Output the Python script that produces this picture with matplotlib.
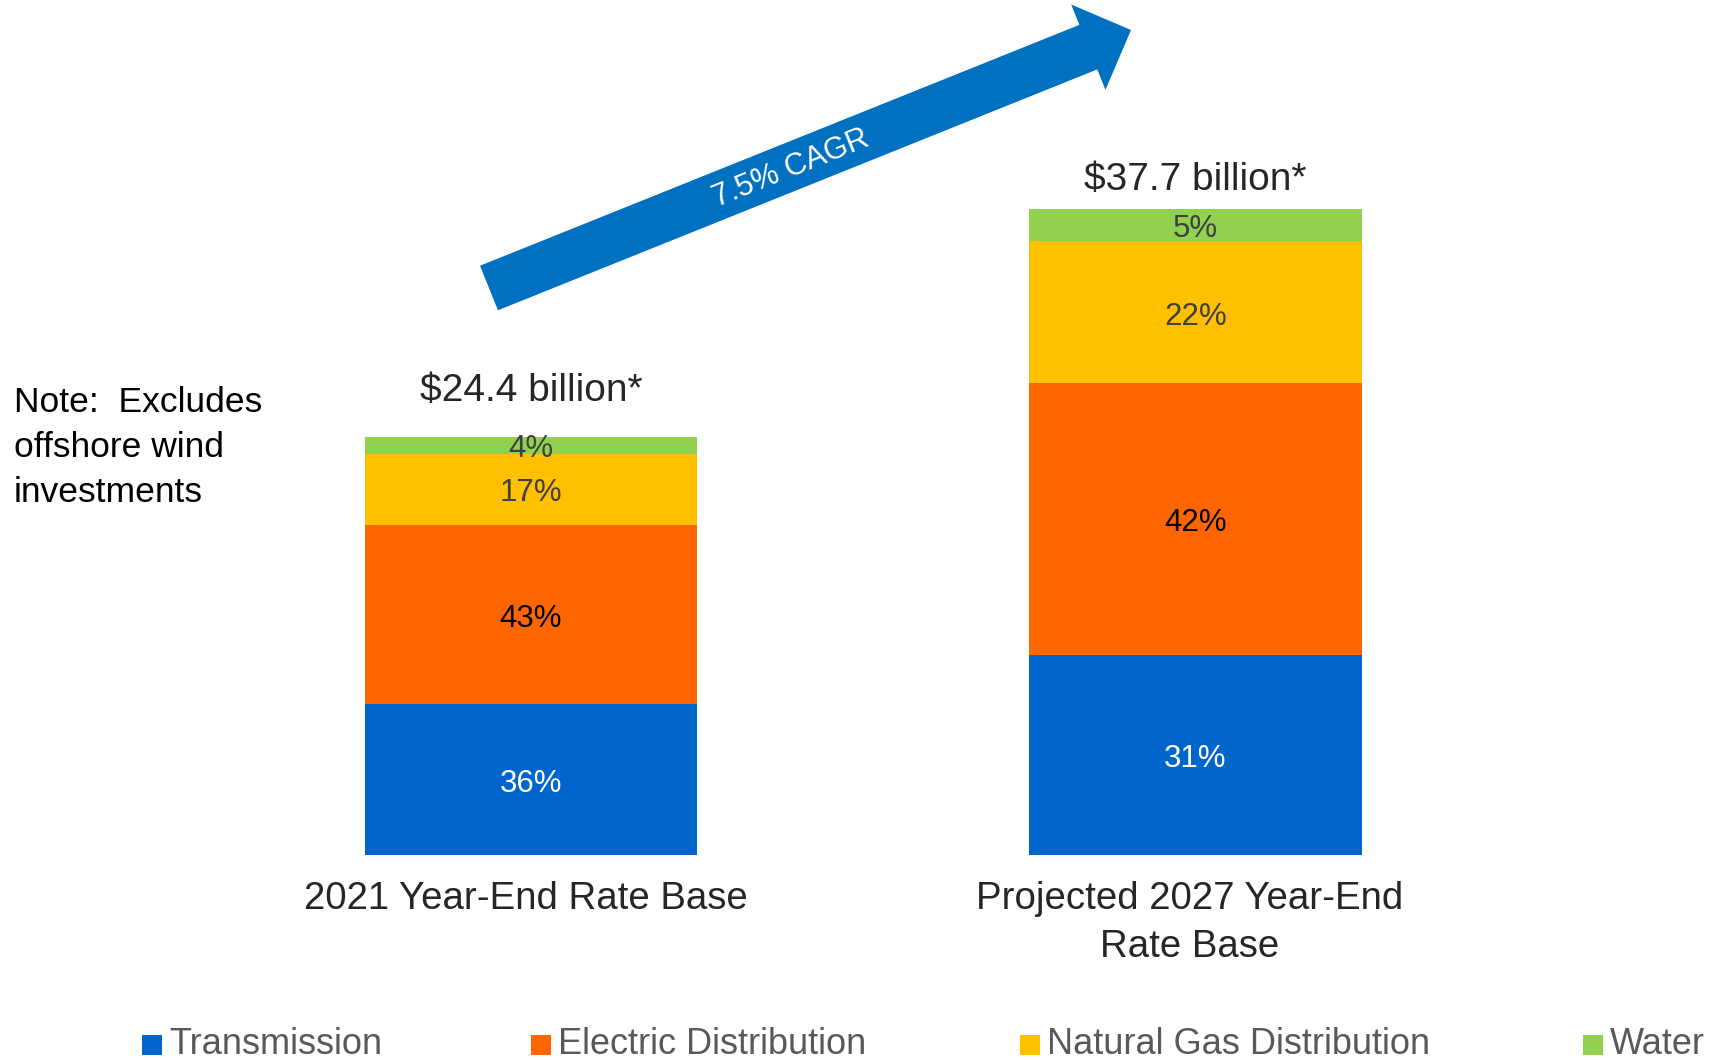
import matplotlib
matplotlib.use("Agg")
import matplotlib.pyplot as plt
from matplotlib import font_manager
from matplotlib.patches import FancyArrow, Rectangle
import numpy as np

names = {f.name for f in font_manager.fontManager.ttflist}
FONT = "Liberation Sans Narrow" if "Liberation Sans Narrow" in names else "Liberation Sans"
plt.rcParams['font.family'] = [FONT, 'DejaVu Sans']

categories = ["2021 Year-End Rate Base", "Projected 2027 Year-End\nRate Base"]
totals = [24.4, 37.7]
total_labels = ["$24.4 billion*", "$37.7 billion*"]
series = ["Transmission", "Electric Distribution", "Natural Gas Distribution", "Water"]
shares = {
    "Transmission": [36, 31],
    "Electric Distribution": [43, 42],
    "Natural Gas Distribution": [17, 22],
    "Water": [4, 5],
}
colors = ["#0066CC", "#FF6600", "#FFC000", "#92D050"]
label_colors = ["white", "black", "#404040", "#404040"]
cagr_text = "7.5% CAGR"
note_text = "Note:  Excludes\noffshore wind\ninvestments"

W, H = 1718, 1060
fig = plt.figure(figsize=(W / 100, H / 100), dpi=100)
ax = fig.add_axes([0, (H - 855) / H, 1, 855 / H])
px_per_unit = 646 / 37.7
ax.set_ylim(0, 855 / px_per_unit)
xs = np.arange(len(categories))
ax.set_xlim(-531 / 664.5, (W - 531) / 664.5)
ax.axis("off")

bottoms = np.zeros(len(categories))
for s, c, lc in zip(series, colors, label_colors):
    vals = np.array(shares[s]) / 100 * np.array(totals)
    ax.bar(xs, vals, width=0.5, bottom=bottoms, color=c, linewidth=0)
    for x, b, v, p in zip(xs, bottoms, vals, shares[s]):
        ax.annotate(f"{p}%", (x, b + v / 2), xytext=(0, -3),
                    textcoords="offset points", ha="center", va="center",
                    fontsize=22.5, color=lc)
    bottoms = bottoms + vals

offsets = [33, 21]
for x, t, lab, off in zip(xs, totals, total_labels, offsets):
    ax.annotate(lab, (x, t), xytext=(0, off), textcoords="offset points",
                ha="center", va="center", fontsize=28, color="#262626")

for x, cat in zip(xs, categories):
    ax.annotate(cat, (x, 0), xytext=(-4, -19), textcoords="offset points",
                ha="center", va="top", fontsize=27.6, color="#262626",
                linespacing=1.41)

fig.text(14 / W, 1 - 386 / H, note_text, ha="left", va="top", fontsize=25.5,
         color="black", linespacing=1.46)

# growth arrow (figure pixel coordinates)
tail = np.array([489, H - 288])
tip = np.array([1131, H - 30])
d = tip - tail
arr = FancyArrow(tail[0], tail[1], d[0], d[1], width=48, head_width=92,
                 head_length=46, length_includes_head=True,
                 transform=None, color="#0070C0", linewidth=0)
fig.patches.append(arr)
ang = np.degrees(np.arctan2(d[1], d[0]))
fig.text(791 / W, 1 - 169 / H, cagr_text, rotation=ang, ha="center",
         va="center", rotation_mode="anchor", fontsize=22, color="white")

# legend
sq_x = [142, 531, 1020, 1583]
for sx, s, c in zip(sq_x, series, colors):
    fig.patches.append(Rectangle((sx / W, (H - 1055) / H), 20 / W, 20 / H,
                                 transform=fig.transFigure, color=c,
                                 linewidth=0))
    fig.text((sx + 27) / W, 1 - 1045 / H, s, ha="left", va="center",
             fontsize=26, color="#595959")

fig.savefig("out.png", dpi=100)
